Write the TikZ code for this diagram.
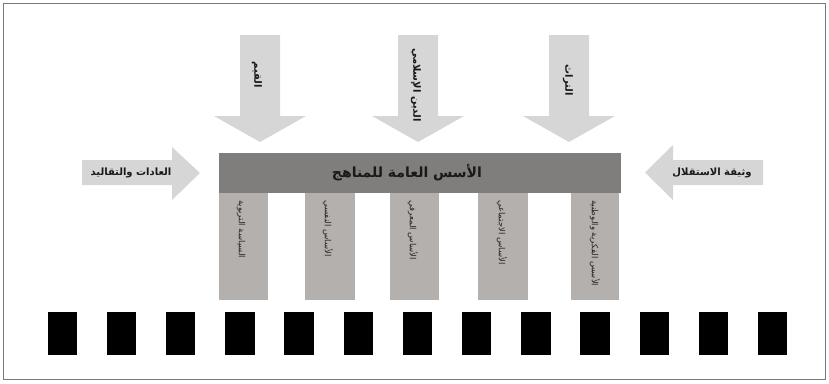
\documentclass[tikz,border=0pt]{standalone}
\usepackage{fontspec}
\TeXXeTstate=1
\newfontfamily\arabicfont[Script=Arabic]{DejaVu Sans}
\definecolor{arrowgray}{HTML}{D6D6D6}
\definecolor{bargray}{HTML}{807E7C}
\definecolor{pillargray}{HTML}{B4B0AD}
\definecolor{framegray}{HTML}{7A7A7A}
\tikzset{
  arrowtext/.style={font=\arabicfont\bfseries\fontsize{10}{11}\selectfont, text=black!90, inner sep=0pt},
  pillartext/.style={font=\arabicfont\fontsize{8.5}{9}\selectfont, text=black!85, inner sep=0pt, rotate=-90, anchor=west},
  titletext/.style={font=\arabicfont\bfseries\fontsize{14}{15}\selectfont, text=black!90, inner sep=0pt}
}
\begin{document}
\begin{tikzpicture}[x=1pt,y=-1pt]
\useasboundingbox (0,0) rectangle (829,383);
% outer frame
\draw[framegray, line width=0.8pt] (3.5,3.5) rectangle (825.5,379.5);

% three downward arrows above the bar
\foreach \cx in {260,418,569}{
  \fill[arrowgray] (\cx-20,35) -- (\cx+20,35) -- (\cx+20,116) -- (\cx+46,116)
     -- (\cx,142) -- (\cx-46,116) -- (\cx-20,116) -- cycle;
}
\node[arrowtext, rotate=-90] (topa) at (257,75) {\beginR القيم\endR};
\node[arrowtext, rotate=-90] (topb) at (416,85) {\beginR الدين الإسلامي\endR};
\node[arrowtext, rotate=-90] (topc) at (568,80) {\beginR التراث\endR};

% side arrows
\fill[arrowgray] (82,160) -- (172,160) -- (172,147) -- (200,173) -- (172,200)
   -- (172,185) -- (82,185) -- cycle;
\node[arrowtext] (lefta) at (131,172.5) {\beginR العادات والتقاليد\endR};
\fill[arrowgray] (763,160) -- (673,160) -- (673,145) -- (645,172.5) -- (673,200)
   -- (673,185) -- (763,185) -- cycle;
\node[arrowtext] (righta) at (712,172.5) {\beginR وثيقة الاستقلال\endR};

% main bar
\fill[bargray] (219,153) rectangle (621,193);
\node[titletext] (title) at (407,173) {\beginR الأسس العامة للمناهج\endR};

% pillars under the bar
\foreach \xa/\xb in {219/268, 305/355, 390/439, 478/528, 571/619}{
  \fill[pillargray] (\xa,193) rectangle (\xb,300);
}
\node[pillartext] (p1) at (241,200) {\beginR السياسة التربوية\endR};
\node[pillartext] (p2) at (328,200) {\beginR الأساس النفسي\endR};
\node[pillartext] (p3) at (413,200) {\beginR الأساس المعرفي\endR};
\node[pillartext] (p4) at (502,200) {\beginR الأساس الاجتماعي\endR};
\node[pillartext] (p5) at (595,200) {\beginR الأسس الفكرية والوطنية\endR};

% row of black blocks
\foreach \i in {0,...,12}{
  \fill[black] (47.5+59.2*\i,312) rectangle +(29.5,43);
}
\end{tikzpicture}
\end{document}
